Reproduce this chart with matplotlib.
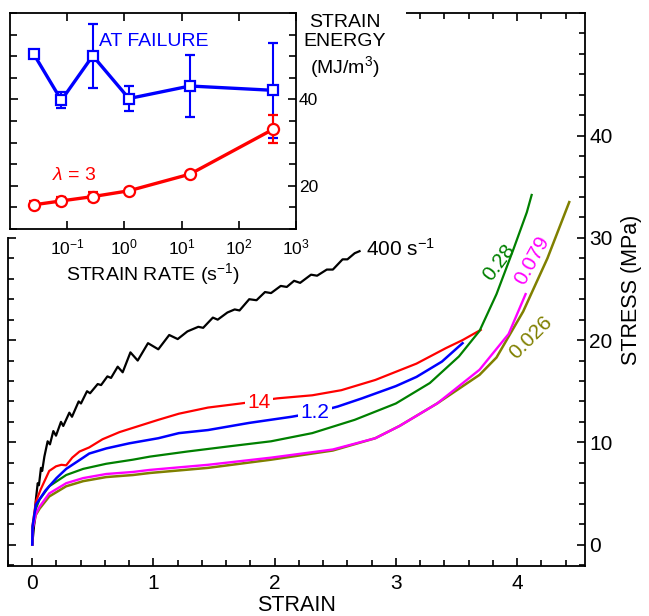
import numpy as np
import matplotlib
matplotlib.use('Agg')
import matplotlib.pyplot as plt
from matplotlib.patches import Rectangle
from matplotlib.ticker import MultipleLocator, FixedLocator, NullLocator

plt.rcParams['font.family'] = ['Liberation Sans', 'DejaVu Sans']
plt.rcParams['mathtext.fontset'] = 'custom'
plt.rcParams['mathtext.rm'] = 'Liberation Sans'
plt.rcParams['mathtext.it'] = 'Liberation Sans:italic'

# --- main panel: stress-strain curves (strain, stress MPa) ---
strain_400 = [0, 0.017, 0.03, 0.045, 0.055, 0.072, 0.082, 0.10, 0.127, 0.146, 0.174, 0.196,
              0.237, 0.256, 0.306, 0.328, 0.383, 0.402, 0.452, 0.477, 0.54, 0.568, 0.62, 0.65,
              0.705, 0.746, 0.81, 0.87, 0.955, 1.04, 1.13, 1.20, 1.28, 1.37, 1.41, 1.49, 1.53,
              1.61, 1.67, 1.71, 1.79, 1.85, 1.92, 1.97, 2.05, 2.10, 2.16, 2.21, 2.30, 2.35,
              2.43, 2.48, 2.56, 2.60, 2.66, 2.70]
stress_400 = [0, 2.1, 4.4, 6.0, 5.8, 7.5, 7.2, 8.6, 10.1, 9.8, 11.1, 10.65,
              12.0, 11.6, 12.9, 12.5, 14.0, 13.8, 15.0, 14.8, 15.7, 15.6, 16.45, 16.3,
              17.4, 16.85, 18.8, 18.0, 19.7, 19.1, 20.5, 20.1, 20.85, 21.3, 21.2, 22.2, 22.0,
              22.7, 23.0, 22.9, 24.0, 23.9, 24.7, 24.6, 25.3, 25.2, 25.8, 25.6, 26.4, 26.3,
              26.9, 26.9, 27.9, 27.9, 28.5, 28.7]

strain_14 = [0, 0.003, 0.03, 0.07, 0.14, 0.196, 0.24, 0.28, 0.33, 0.39, 0.47, 0.58, 0.72, 0.88,
             1.04, 1.21, 1.45, 1.72, 2.02, 2.31, 2.55, 2.83, 3.0, 3.17, 3.41, 3.55, 3.70]
stress_14 = [0, 1.9, 4.2, 5.4, 7.2, 7.65, 7.8, 7.75, 8.5, 9.1, 9.5, 10.3, 11.0, 11.6,
             12.2, 12.8, 13.4, 13.8, 14.3, 14.6, 15.1, 16.1, 16.9, 17.7, 19.2, 20.0, 21.0]

strain_1p2 = [0, 0.003, 0.03, 0.07, 0.11, 0.20, 0.28, 0.42, 0.47, 0.61, 0.80, 1.04, 1.21, 1.45,
              1.79, 2.14, 2.33, 2.52, 2.72, 3.0, 3.17, 3.38, 3.55]
stress_1p2 = [0, 1.8, 3.9, 4.6, 5.3, 6.5, 7.4, 8.5, 8.9, 9.4, 9.9, 10.4, 10.9, 11.2,
              11.9, 12.5, 12.9, 13.5, 14.3, 15.5, 16.4, 17.9, 19.7]

strain_0p28 = [0, 0.003, 0.03, 0.06, 0.14, 0.28, 0.42, 0.61, 0.83, 0.97, 1.28, 1.62, 1.97, 2.31,
               2.66, 3.0, 3.28, 3.52, 3.69, 3.83, 3.97, 4.08, 4.12]
stress_0p28 = [0, 1.7, 3.5, 4.4, 5.7, 6.8, 7.4, 7.9, 8.3, 8.6, 9.1, 9.6, 10.1, 10.9,
               12.2, 13.8, 15.8, 18.4, 20.9, 24.5, 28.9, 32.5, 34.2]

strain_0p079 = [0, 0.003, 0.03, 0.06, 0.14, 0.28, 0.42, 0.61, 0.83, 0.97, 1.45, 1.97, 2.48, 2.83,
                3.03, 3.34, 3.69, 3.93, 4.07]
stress_0p079 = [0, 1.5, 3.0, 3.7, 5.0, 6.0, 6.5, 6.9, 7.1, 7.3, 7.8, 8.5, 9.3, 10.4,
                11.6, 13.8, 17.1, 20.6, 24.5]

strain_0p026 = [0, 0.003, 0.03, 0.06, 0.14, 0.28, 0.42, 0.61, 0.83, 0.97, 1.45, 1.97, 2.48, 2.83,
                3.03, 3.34, 3.69, 3.83, 4.05, 4.25, 4.43]
stress_0p026 = [0, 1.4, 2.9, 3.5, 4.7, 5.7, 6.2, 6.6, 6.8, 7.0, 7.5, 8.3, 9.2, 10.4,
                11.6, 13.8, 16.6, 18.3, 22.8, 28.0, 33.5]

# --- inset: strain energy vs strain rate ---
rates = [0.026, 0.079, 0.28, 1.2, 14, 400]
energy_failure = [50.5, 39.8, 50.1, 40.2, 43.1, 42.1]
energy_failure_err = [0.4, 1.9, 7.4, 2.9, 7.2, 11.0]
energy_lambda3 = [15.6, 16.5, 17.5, 18.85, 22.7, 33.1]
energy_lambda3_err = [0.8, 1.0, 1.0, 0.3, 0.3, 3.2]

W, H = 649, 616


def main():
    fig = plt.figure(figsize=(W / 100, H / 100), dpi=100)

    # main axes
    ax = fig.add_axes([8 / W, 50 / H, 577 / W, 553 / H])
    ax.plot(strain_400, stress_400, color='black', lw=1.6, zorder=3)
    ax.plot(strain_14, stress_14, color='#ff0000', lw=1.6, zorder=3)
    ax.plot(strain_1p2, stress_1p2, color='#0000ff', lw=1.8, zorder=5)
    ax.plot(strain_0p28, stress_0p28, color='#008000', lw=1.6, zorder=3)
    ax.plot(strain_0p079, stress_0p079, color='#ff00ff', lw=1.7, zorder=3)
    ax.plot(strain_0p026, stress_0p026, color='#808000', lw=1.8, zorder=2)

    ax.set_xlim(-0.2, 4.56)
    ax.set_ylim(-2.1, 52)
    ax.xaxis.set_major_locator(FixedLocator([0, 1, 2, 3, 4]))
    ax.xaxis.set_minor_locator(MultipleLocator(0.2))
    ax.yaxis.set_major_locator(FixedLocator([0, 10, 20, 30, 40]))
    ax.yaxis.set_minor_locator(MultipleLocator(2))
    ax.tick_params(which='both', direction='in', top=True, bottom=True, left=True, right=True,
                   labelleft=False, labelright=True, width=1.2)
    ax.tick_params(which='major', length=6, labelsize=15)
    ax.tick_params(which='minor', length=4.5)
    ax.tick_params(axis='x', pad=6)
    ax.tick_params(axis='y', pad=3)
    for s in ax.spines.values():
        s.set_linewidth(1.3)
    ax.set_xlabel('STRAIN', fontsize=15.5, labelpad=1)
    ax.yaxis.set_label_position('right')
    ax.set_ylabel('STRESS (MPa)', fontsize=15.5, labelpad=6)

    ax.text(2.75, 28.9, '400 s$^{-1}$', fontsize=15, ha='left', va='center', zorder=6)
    ax.text(1.87, 13.9, '14', fontsize=15, color='#ff0000', ha='center', va='center', zorder=4,
            bbox=dict(facecolor='white', edgecolor='none', pad=2))
    ax.text(2.33, 12.9, '1.2', fontsize=15, color='#0000ff', ha='center', va='center', zorder=6,
            bbox=dict(facecolor='white', edgecolor='none', pad=2))
    ax.text(3.85, 27.6, '0.28', fontsize=15, color='#008000', ha='center', va='center', rotation=53)
    ax.text(4.12, 27.8, '0.079', fontsize=15, color='#ff00ff', ha='center', va='center', rotation=61)
    ax.text(4.11, 20.2, '0.026', fontsize=15, color='#808000', ha='center', va='center', rotation=45)

    # white area behind the inset and its labels
    fig.add_artist(Rectangle((0, 1 - 237 / H), 406 / W, 237 / H, transform=fig.transFigure,
                             facecolor='white', edgecolor='none', zorder=1))

    # inset
    ins = fig.add_axes([10 / W, (H - 229) / H, 286 / W, 216 / H])
    ins.set_zorder(2)
    ins.errorbar(rates, energy_failure, yerr=energy_failure_err, color='#0000ff', lw=2.4,
                 elinewidth=1.5, capsize=3.5, capthick=1.5, marker='s', ms=7,
                 mfc='white', mec='#0000ff', mew=1.6)
    ins.errorbar(rates, energy_lambda3, yerr=energy_lambda3_err, color='#ff0000', lw=2.4,
                 elinewidth=1.5, capsize=3.5, capthick=1.5, marker='o', ms=8,
                 mfc='white', mec='#ff0000', mew=1.6)
    ins.set_xscale('log')
    ins.set_xlim(1e-2, 1e3)
    ins.set_ylim(10, 60)
    ins.xaxis.set_major_locator(FixedLocator([1e-1, 1e0, 1e1, 1e2, 1e3]))
    ins.xaxis.set_minor_locator(NullLocator())
    ins.set_xticklabels(['10$^{-1}$', '10$^{0}$', '10$^{1}$', '10$^{2}$', '10$^{3}$'])
    ins.yaxis.set_major_locator(FixedLocator([20, 40]))
    ins.yaxis.set_minor_locator(MultipleLocator(5))
    ins.tick_params(which='both', direction='in', top=True, bottom=True, left=True, right=True,
                    labelleft=False, labelright=True, width=1.2)
    ins.tick_params(which='major', length=6, labelsize=12.5)
    ins.tick_params(which='minor', length=5)
    ins.tick_params(axis='x', pad=6)
    ins.tick_params(axis='y', pad=2)
    for s in ins.spines.values():
        s.set_linewidth(1.3)
    ins.set_xlabel('STRAIN RATE (s$^{-1}$)', fontsize=14, labelpad=3)
    ins.text(0.357, 53.3, 'AT FAILURE', fontsize=14, color='#0000ff', ha='left', va='center')
    ins.text(0.054, 22.5, '$\\lambda$ = 3', fontsize=14, color='#ff0000', ha='left', va='center')

    fig.text(345 / W, 1 - 47 / H, 'STRAIN\nENERGY\n(MJ/m$^{3}$)', fontsize=14, ha='center',
             va='center', multialignment='center', linespacing=1.2, zorder=3)

    fig.savefig('out.png', dpi=100)
    plt.close(fig)


if __name__ == '__main__':
    main()
